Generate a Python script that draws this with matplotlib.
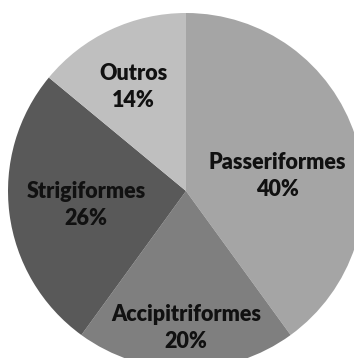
import matplotlib.pyplot as plt

ordens = ['Passeriformes', 'Accipitriformes', 'Strigiformes', 'Outros']
percentuais = [40, 20, 26, 14]
cores = ['#a5a5a5', '#7f7f7f', '#595959', '#bfbfbf']

# posicao dos rotulos (em pixels, relativo ao centro da pizza)
pos_rotulos = [(91, 15), (0, -137), (-100, -14), (-53, 104)]

fig = plt.figure(figsize=(3.54, 3.58), dpi=100)
ax = fig.add_axes([0, 0, 1, 1])

ax.pie(percentuais, colors=cores, startangle=90, counterclock=False,
       radius=178, center=(0, 0), frame=True)

for nome, p, (x, y) in zip(ordens, percentuais, pos_rotulos):
    ax.text(x, y, f'{nome}\n{p}%', ha='center', va='center',
            fontsize=15.5, fontweight='heavy', family='Lato',
            color='#111111', linespacing=1.35)

ax.set_xlim(-186, 168)
ax.set_ylim(-167, 191)
ax.axis('off')

plt.savefig('out.png', dpi=100)
